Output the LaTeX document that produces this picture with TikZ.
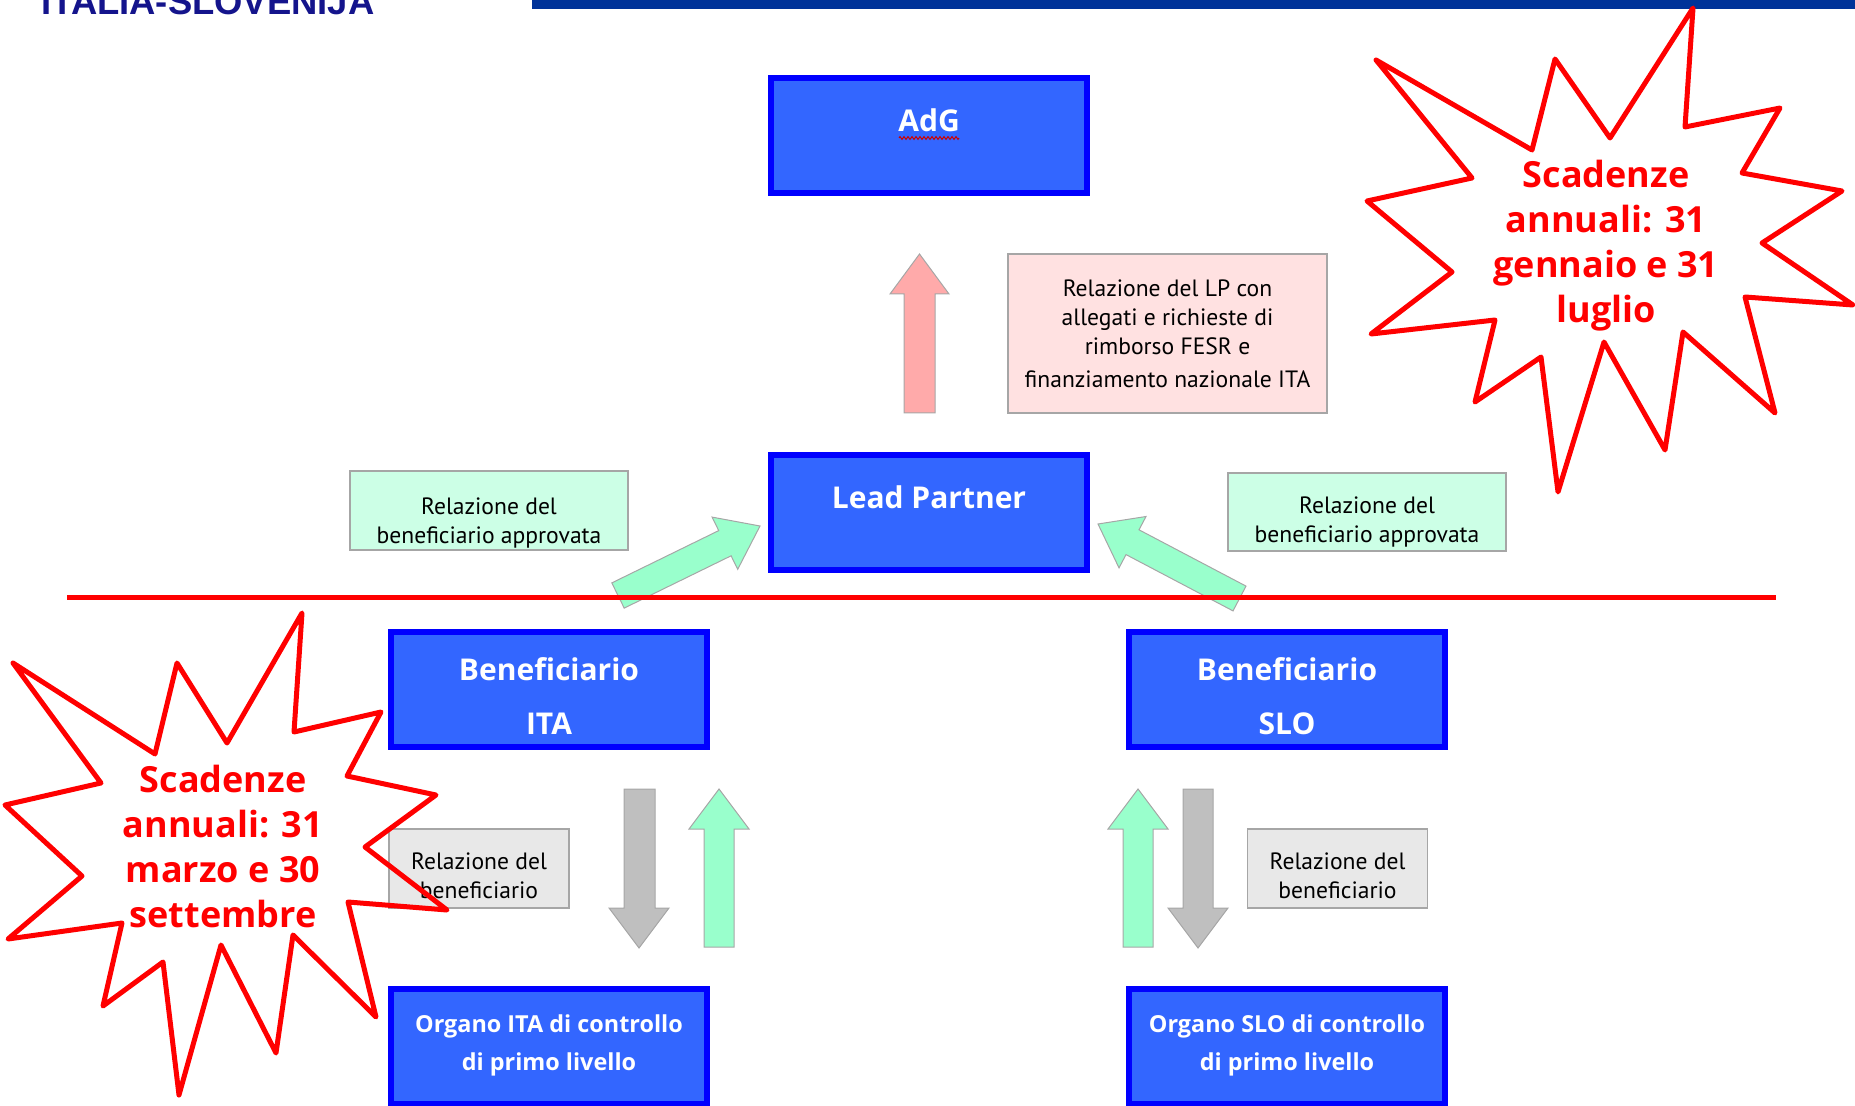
\documentclass[tikz,border=0pt]{standalone}
\usepackage{fontspec}
\usepackage{tikz}
\usetikzlibrary{calc,positioning,decorations.pathmorphing}
\newfontfamily\boxfont{Open Sans}
\newfontfamily\notefont{PT Sans}
\newfontfamily\titlefont{Liberation Sans}
\definecolor{boxblue}{HTML}{3366FF}
\definecolor{edgeblue}{HTML}{0000FF}
\definecolor{barblue}{HTML}{003399}
\definecolor{titleblue}{HTML}{14148C}
\definecolor{mint}{HTML}{99FFCC}
\definecolor{mintlight}{HTML}{CCFFE6}
\definecolor{rosa}{HTML}{FFAAAA}
\definecolor{rosalight}{HTML}{FFE1E1}
\definecolor{grigio}{HTML}{BFBFBF}
\definecolor{grigiolight}{HTML}{E8E8E8}
\definecolor{bordo}{HTML}{A6A6A6}
\tikzset{
  bluebox/.style={draw=edgeblue, line width=3pt, fill=boxblue, minimum width=158pt, minimum height=57.5pt, inner sep=0pt},
  bluetext/.style={text=white, font=\boxfont\bfseries\fontsize{15}{27}\selectfont, align=center, inner sep=0pt},
  smalltext/.style={text=white, font=\boxfont\bfseries\fontsize{11.7}{19}\selectfont, align=center, inner sep=0pt},
  notebox/.style={draw=bordo, line width=0.6pt, inner sep=0pt},
  notetext/.style={font=\notefont\fontsize{11.8}{14.5}\selectfont, align=center, inner sep=0pt},
  blockarrow/.style={draw=bordo, line width=0.5pt, line join=miter},
  burst/.style={draw=red, line width=2.5pt, line join=round},
  bursttext/.style={text=red, font=\boxfont\bfseries\fontsize{18}{22.5}\selectfont, align=center, inner sep=0pt}
}
\begin{document}
\begin{tikzpicture}[x=0.5pt, y=-0.5pt]
    \useasboundingbox (0,0) rectangle (1855,1106);
    \fill[barblue] (532,0) rectangle (1855,9);
    \node[anchor=base west, inner sep=0pt, text=titleblue, font=\titlefont\bfseries\fontsize{18.2}{20}\selectfont] (title) at (41,15) {ITALIA-SLOVENIJA};

    \node[notebox, fill=rosalight, minimum width=159.5pt, minimum height=79.5pt] (lpnote) at (1167.5,333.5) {};
    \node[notebox, fill=mintlight, minimum width=139pt, minimum height=39.5pt] (okita) at (489,510.5) {};
    \node[notebox, fill=mintlight, minimum width=139pt, minimum height=39pt] (okslo) at (1367,512) {};
    \node[notebox, fill=grigiolight, minimum width=90pt, minimum height=39.5pt] (relita) at (479,868.5) {};
    \node[notebox, fill=grigiolight, minimum width=90pt, minimum height=39.5pt] (relslo) at (1337.5,868.5) {};

    \node[notetext] (lpnote-t) at (1167.5,334) {Relazione del LP con\\ allegati e richieste di\\ rimborso FESR e\\[2pt] finanziamento nazionale ITA};
    \node[notetext] (okita-t) at (489,523) {Relazione del\\ beneficiario approvata};
    \node[notetext] (okslo-t) at (1367,522.5) {Relazione del\\ beneficiario approvata};
    \node[notetext] (relita-t) at (479,875.5) {Relazione del\\ beneficiario};
    \node[notetext] (relslo-t) at (1337.5,875.5) {Relazione del\\ beneficiario};

    \draw[blockarrow, fill=rosa] (904,413) -- (904,294) -- (890,294) -- (919.5,254) -- (949,294) -- (935,294) -- (935,413) -- cycle;
    \draw[blockarrow, fill=mint] (611.8,582.9) -- (718.7,530.6) -- (712.1,517.1) -- (760,526) -- (737.7,569.3) -- (731.1,555.8) -- (624.2,608.1) -- cycle;
    \draw[blockarrow, fill=mint] (1246,586.1) -- (1139,529.8) -- (1146,516.5) -- (1098,524) -- (1119,567.9) -- (1126,554.6) -- (1233,610.9) -- cycle;
    \draw[blockarrow, fill=grigio] (624,789) -- (655,789) -- (655,908) -- (669,908) -- (639,948) -- (609,908) -- (624,908) -- cycle;
    \draw[blockarrow, fill=mint] (704,947) -- (704,829) -- (689,829) -- (719,789) -- (749,829) -- (734,829) -- (734,947) -- cycle;
    \draw[blockarrow, fill=mint] (1123,947) -- (1123,829) -- (1108,829) -- (1138,789) -- (1168,829) -- (1153,829) -- (1153,947) -- cycle;
    \draw[blockarrow, fill=grigio] (1183,789) -- (1213,789) -- (1213,908) -- (1228,908) -- (1198,948) -- (1168,908) -- (1183,908) -- cycle;

    \node[bluebox] (adg) at (929,135.5) {};
    \node[bluebox] (lp) at (929,512) {};
    \node[bluebox] (benita) at (549,689.5) {};
    \node[bluebox] (benslo) at (1287,689.5) {};
    \node[bluebox] (orgita) at (549,1046) {};
    \node[bluebox] (orgslo) at (1287,1046) {};

    \node[bluetext] (adg-t) at (929,120) {AdG};
    \draw[red!80!black, line width=0.5pt, decorate, decoration={zigzag, segment length=2pt, amplitude=0.7pt}] (899,138) -- (959,138);
    \node[bluetext] (lp-t) at (929,497) {Lead Partner};
    \node[bluetext] (benita-t) at (549,696) {Beneficiario\\ ITA};
    \node[bluetext] (benslo-t) at (1287,696) {Beneficiario\\ SLO};
    \node[smalltext] (orgita-t) at (549,1045.5) {Organo ITA di controllo\\ di primo livello};
    \node[smalltext] (orgslo-t) at (1287,1045.5) {Organo SLO di controllo\\ di primo livello};

    \draw[red, line width=2.5pt] (67,597) -- (1776,597);

    \draw[burst] (1693,8) -- (1685,127) -- (1780,108) -- (1742,173) -- (1842,191) -- (1762,243)
          -- (1853,305) -- (1745,297) -- (1775,413) -- (1683,332) -- (1665,450) -- (1604,342)
          -- (1558,492) -- (1541,357) -- (1475,402) -- (1495,320) -- (1371,334) -- (1452,272)
          -- (1367,201) -- (1472,178) -- (1376,60) -- (1532,150) -- (1555,59) -- (1610,138) -- cycle;
    \draw[burst] (302,613) -- (294,732) -- (381,712) -- (347,776) -- (436,795) -- (365,847)
          -- (447,910) -- (348,902) -- (376,1017) -- (293,935) -- (276,1053) -- (221,945)
          -- (179,1095) -- (163,962) -- (103,1006) -- (122,923) -- (8,939) -- (82,876)
          -- (5,805) -- (101,783) -- (13,663) -- (155,754) -- (177,663) -- (227,743) -- cycle;

    \node[bursttext] (janjul) at (1606,246) {Scadenze\\ annuali: 31\\ gennaio e 31\\ luglio};
    \node[bursttext] (marset) at (223,846) {Scadenze\\ annuali: 31\\ marzo e 30\\ settembre};
\end{tikzpicture}
\end{document}
